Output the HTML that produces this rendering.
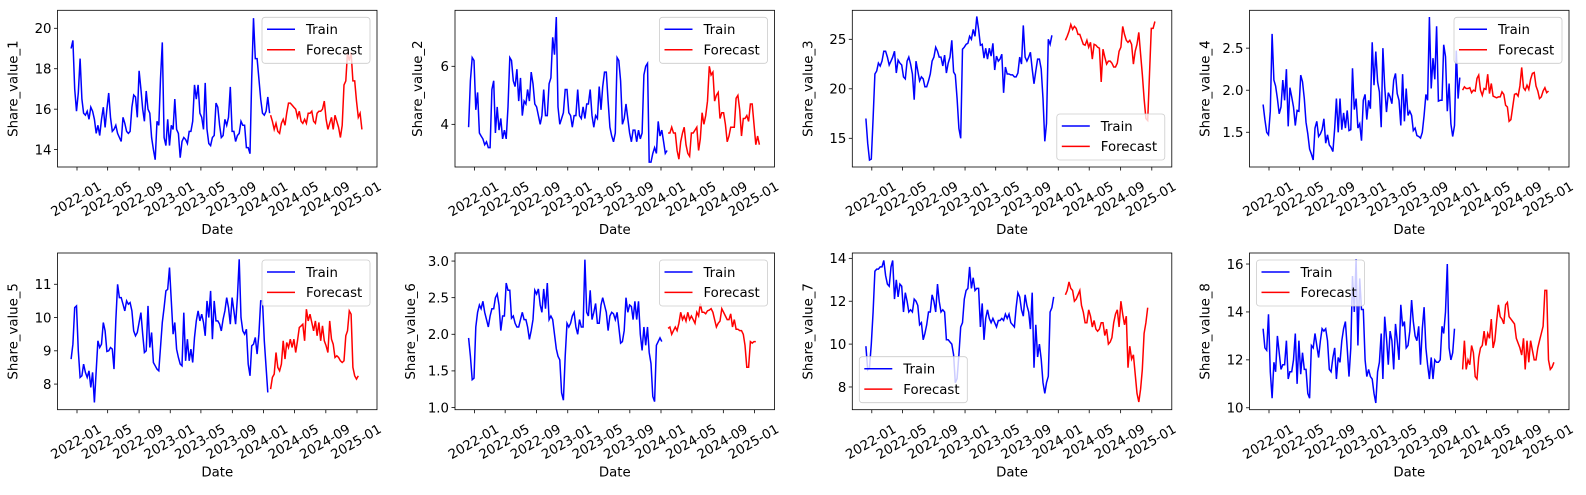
<!DOCTYPE html>
<html><head><meta charset="utf-8"><style>
body{margin:0;background:#fff}
svg text{font-family:"DejaVu Sans","Liberation Sans",sans-serif;fill:#000}
</style></head><body>
<svg id="fig" width="1586" height="490" xmlns="http://www.w3.org/2000/svg"></svg>
<script>
const panelNames=['Share_value_1','Share_value_2','Share_value_3','Share_value_4','Share_value_5','Share_value_6','Share_value_7','Share_value_8'];
const xTickLabels=['2022-01','2022-05','2022-09','2023-01','2023-05','2023-09','2024-01','2024-05','2024-09','2025-01'];
const trainStart='2021-12-09';
const forecastStart='2024-01-29';
const train1=[19.0,19.4,17.0,15.9,16.8,18.5,16.5,15.8,15.7,15.9,15.5,16.1,15.9,15.5,14.8,15.2,14.7,15.5,16.1,15.1,16.0,16.8,15.6,14.9,15.0,15.2,14.8,14.6,14.4,15.6,15.3,14.9,14.8,14.9,16.1,16.7,16.6,15.6,17.9,17.0,16.0,15.4,16.9,16.0,15.8,14.6,14.0,13.5,15.4,15.2,17.5,19.3,14.6,14.2,15.5,14.2,15.2,15.0,16.5,15.0,14.8,13.6,14.4,14.6,14.5,14.3,14.9,14.9,15.4,17.2,16.5,17.2,15.8,15.6,15.0,17.3,15.0,14.3,14.2,14.6,14.7,16.3,16.1,15.2,14.6,14.7,15.5,15.2,15.6,17.1,14.9,14.9,14.4,14.7,14.8,15.4,15.2,15.2,14.1,14.1,13.8,17.5,20.5,18.5,18.5,17.5,16.5,15.8,15.7,15.9,16.6,15.8];
const fc1=[15.7,15.4,15.0,15.3,14.9,14.8,15.3,15.5,15.2,15.8,16.3,16.3,16.2,16.1,16.0,15.6,15.9,15.4,15.3,15.5,15.3,15.8,15.8,15.9,15.4,15.3,15.8,15.9,15.9,16.0,16.4,15.5,15.0,15.3,15.6,15.0,15.7,15.4,15.1,14.6,15.2,17.2,17.4,18.8,18.4,18.8,17.4,17.4,16.4,15.6,15.8,15.0];
const train2=[3.9,5.5,6.3,6.2,4.5,5.1,3.7,3.6,3.5,3.3,3.4,3.2,3.2,5.2,5.5,3.7,4.6,3.8,4.2,3.5,3.8,3.5,4.6,6.3,6.2,5.5,5.3,5.9,4.8,5.6,4.3,4.8,4.7,5.2,4.8,5.8,5.4,4.7,4.6,4.3,4.0,4.3,5.2,4.3,4.3,5.4,5.6,7.0,6.4,7.7,4.6,4.0,4.2,4.4,5.2,5.2,4.4,4.3,3.9,4.3,4.3,5.2,4.3,4.2,4.6,4.2,4.7,4.7,5.2,4.3,3.9,4.3,4.2,5.3,4.5,5.3,5.8,5.8,4.8,3.9,3.6,3.4,3.7,6.3,6.2,5.5,4.0,4.2,4.7,4.2,3.7,3.4,3.8,3.8,3.4,3.8,3.5,3.7,5.7,6.0,6.1,2.7,2.7,3.0,3.2,3.0,4.1,3.6,3.8,3.4,3.0,3.1];
const fc2=[3.7,3.7,3.9,3.7,3.7,3.1,2.8,3.4,3.7,3.9,3.3,3.0,2.9,3.7,3.7,3.8,3.9,3.1,3.5,4.4,4.0,4.3,4.8,6.0,5.7,5.8,4.8,5.0,5.1,4.2,4.4,4.4,4.0,3.4,3.6,3.9,3.9,3.9,4.9,5.0,4.5,3.6,4.2,4.2,4.3,4.1,4.7,4.7,4.0,3.3,3.6,3.3];
const train3=[17.0,14.5,12.8,12.9,17.0,21.5,21.8,22.6,22.3,22.8,23.8,23.8,23.2,22.4,22.8,23.2,23.8,21.6,22.9,22.6,22.4,21.2,21.0,22.8,23.2,22.5,21.5,18.9,22.8,21.8,20.8,21.2,21.0,20.2,20.2,20.8,21.5,22.8,23.2,24.2,23.8,23.2,23.2,22.3,23.4,21.6,22.6,23.2,24.9,21.7,21.4,19.0,16.0,15.0,24.0,24.2,24.5,24.6,25.3,25.0,26.0,25.3,27.3,26.0,24.4,24.5,23.1,24.1,23.0,24.1,23.3,24.6,21.9,23.3,22.8,23.0,23.5,19.6,22.2,21.5,21.5,21.4,21.4,21.2,21.2,21.6,23.2,22.5,26.4,23.2,22.8,23.2,23.7,22.0,20.5,21.8,23.0,23.0,22.0,19.0,14.7,16.5,25.0,24.5,25.4];
const fc3=[24.9,25.3,25.8,26.5,26.0,26.3,26.1,25.5,25.5,25.0,24.5,24.4,24.9,24.2,24.7,23.0,24.5,24.4,24.2,24.1,20.7,24.0,23.2,22.5,22.8,22.8,22.6,22.2,22.2,22.6,23.8,24.2,26.3,25.5,24.9,24.7,24.9,24.5,22.5,23.8,24.5,25.7,23.5,21.5,19.0,17.0,16.8,21.5,26.1,26.1,26.8];
const train4=[1.83,1.65,1.50,1.47,1.75,2.67,2.12,2.05,1.90,1.72,1.80,2.12,1.88,2.25,1.57,2.03,1.92,1.80,1.58,1.76,1.75,2.18,2.10,1.90,1.62,1.48,1.30,1.24,1.17,1.55,1.63,1.45,1.48,1.53,1.66,1.37,1.47,1.35,1.32,1.27,1.55,1.90,1.50,1.90,1.53,1.73,1.55,1.76,1.52,1.53,2.26,1.77,1.90,1.55,1.60,1.40,1.88,1.95,1.65,1.88,1.78,2.57,2.06,2.46,2.10,1.98,1.56,2.50,2.04,1.74,1.97,1.92,1.84,2.12,2.20,1.96,1.88,1.58,2.19,1.63,2.02,1.70,1.75,1.70,1.52,1.55,1.46,1.45,1.43,1.50,1.70,1.95,1.88,2.87,2.02,2.38,2.13,2.76,1.87,1.88,1.88,2.54,2.40,1.75,2.08,1.60,1.45,1.58,2.47,1.90,2.15];
const fc4=[2.00,2.04,2.02,2.02,2.03,1.97,2.00,1.99,2.14,2.18,2.00,1.94,2.02,2.01,2.19,1.96,2.08,1.93,1.92,1.91,1.92,1.92,1.98,1.95,1.82,1.80,1.63,1.65,1.80,1.95,1.96,1.93,2.05,2.27,2.03,2.00,2.06,2.01,2.13,2.20,2.21,2.05,1.99,1.90,1.92,1.99,2.03,1.97,1.99];
const train5=[8.75,9.2,10.3,10.35,9.0,8.2,8.25,8.6,8.35,8.2,8.4,7.9,8.35,7.45,8.4,9.3,9.1,9.2,9.85,9.6,8.98,9.0,9.1,9.05,8.45,9.9,11.0,10.6,10.6,10.4,10.2,10.5,10.4,10.45,10.2,9.6,9.45,9.55,9.85,10.15,9.5,8.95,9.0,10.35,9.1,9.55,8.65,8.55,8.45,8.4,9.1,9.85,10.3,10.8,10.85,11.5,10.5,9.5,9.85,9.05,8.8,8.6,8.55,10.15,8.7,9.35,8.7,9.05,8.65,9.4,9.9,10.2,9.9,10.1,9.85,9.45,10.5,10.0,10.8,9.35,10.5,9.9,9.9,9.8,9.6,9.95,10.2,10.6,10.3,9.8,10.6,10.2,9.8,10.6,11.75,10.0,9.6,9.5,9.65,8.6,8.25,9.15,9.2,9.4,8.9,9.5,10.5,10.5,9.3,8.5,7.75];
const fc5=[7.85,8.2,8.3,8.95,8.5,8.4,8.6,9.3,8.75,9.25,9.1,9.35,9.1,9.35,8.95,9.3,9.7,9.75,9.8,9.3,10.25,9.9,10.1,9.85,9.6,9.9,9.45,9.85,9.3,9.75,9.3,9.15,8.95,9.9,9.35,9.2,8.8,8.85,8.8,8.7,8.65,8.7,9.45,9.6,10.2,10.1,8.5,8.25,8.15,8.25];
const train6=[1.95,1.7,1.38,1.4,2.1,2.3,2.4,2.35,2.45,2.3,2.2,2.1,2.25,2.35,2.35,2.5,2.55,2.4,2.05,2.25,2.25,2.7,2.6,2.6,2.22,2.25,2.15,2.1,2.1,2.2,2.3,2.2,2.2,2.1,1.93,2.05,2.2,2.6,2.55,2.62,2.4,2.3,2.62,2.35,2.7,2.2,2.25,2.2,2.0,1.8,1.7,1.65,1.2,1.1,1.7,2.15,2.1,2.15,2.25,2.3,2.1,2.0,2.2,2.1,2.1,3.02,2.3,2.25,2.6,2.2,2.3,2.42,2.15,2.15,2.4,2.5,2.4,2.3,2.05,2.25,2.3,2.28,2.2,2.3,2.1,1.88,1.9,2.05,2.5,2.3,2.4,2.38,2.2,2.45,2.2,2.45,2.0,1.78,2.1,1.85,2.1,1.75,1.6,1.15,1.08,1.85,1.9,1.95,1.9];
const fc6=[2.08,2.1,2.0,2.05,2.1,2.05,2.15,2.3,2.2,2.25,2.18,2.3,2.2,2.25,2.2,2.15,2.3,2.25,2.42,2.3,2.3,2.28,2.32,2.33,2.35,2.3,2.2,2.1,2.15,2.18,2.35,2.3,2.25,2.2,2.2,2.28,2.1,2.2,2.07,2.07,2.05,2.05,2.0,1.85,1.55,1.55,1.9,1.88,1.9,1.9];
const train7=[9.9,8.8,8.9,10.0,11.5,13.4,13.5,13.5,13.6,13.6,13.9,13.2,12.8,12.7,13.6,13.9,12.1,13.0,12.2,12.8,12.7,11.5,12.4,12.0,11.5,11.6,11.5,12.1,12.0,11.8,10.9,11.0,10.2,10.5,10.9,11.5,11.5,12.3,12.0,11.5,12.8,12.0,11.5,11.6,11.5,10.2,10.2,10.1,10.0,9.5,8.2,8.4,9.5,10.8,11.0,12.1,12.5,12.6,13.6,12.6,13.1,12.5,12.6,12.6,10.8,11.9,10.2,11.2,11.6,11.2,11.0,11.2,11.0,10.8,11.1,11.1,11.2,11.1,11.4,11.2,11.4,11.0,10.9,10.8,11.7,12.4,12.2,11.6,11.3,12.3,11.8,11.5,10.7,12.4,8.9,10.9,9.4,10.0,9.3,8.2,7.7,8.2,8.5,11.5,11.7,12.2];
const fc7=[12.3,12.5,12.9,12.6,12.5,12.0,12.1,12.3,12.5,11.8,11.5,11.0,11.0,11.6,11.3,10.8,11.1,10.7,10.6,10.7,11.0,11.0,10.4,10.7,10.0,10.1,10.3,11.0,11.4,11.6,10.8,12.0,11.4,10.9,11.3,8.9,9.9,9.3,9.5,8.6,7.7,7.3,7.9,8.8,10.5,11.0,11.7];
const train8=[13.3,12.5,12.4,13.9,11.5,10.4,11.9,11.5,13.0,12.3,11.6,11.8,11.8,12.8,11.2,11.5,11.5,12.0,13.1,11.0,12.8,11.4,12.3,11.6,11.6,10.6,10.4,12.6,12.5,13.1,12.6,12.1,12.8,13.3,13.2,13.3,12.8,11.6,11.5,12.1,12.5,11.2,12.1,11.9,12.8,13.3,13.6,12.5,11.3,12.5,15.5,14.0,16.2,12.6,15.4,14.1,14.1,12.0,11.3,11.6,11.3,11.2,10.6,10.2,11.5,11.9,13.1,11.2,13.8,12.9,11.8,13.2,12.8,11.6,13.5,12.8,12.0,14.3,13.4,13.6,12.5,12.6,13.2,14.5,13.6,13.0,12.8,13.4,11.8,13.3,14.2,12.5,11.8,11.2,12.1,11.2,12.0,11.9,11.9,12.0,13.4,13.1,14.0,16.0,12.5,12.0,12.3,13.3];
const fc8=[11.6,12.8,11.6,12.0,11.8,12.6,12.3,11.3,11.2,12.1,12.5,12.6,13.2,12.6,13.1,12.9,13.7,12.5,12.8,13.6,14.3,13.8,13.7,13.5,14.3,14.4,13.8,13.7,13.6,13.5,12.9,12.7,12.5,12.2,12.9,11.6,12.8,11.9,12.8,12.4,12.0,12.0,12.5,12.8,13.1,13.4,14.9,14.9,12.0,11.6,11.7,11.9];
const yTicks1=[14,16,18,20],yTicks2=[4,6],yTicks3=[15,20,25],yTicks4=[1.5,2.0,2.5],yTicks5=[8,9,10,11],yTicks6=[1.0,1.5,2.0,2.5,3.0],yTicks7=[8,10,12,14],yTicks8=[10,12,14,16];
const yLim1=[13.14,20.89],yLim2=[2.53,7.93],yLim3=[12.1,27.93],yLim4=[1.087,2.95],yLim5=[7.23,11.94],yLim6=[0.97,3.11],yLim7=[6.94,14.25],yLim8=[9.92,16.46];
const tickDec=[0,0,0,1,0,1,0,0];
const legendPos=['ur','ur','lr','ur','ur','ur','ll','ul'];

const trains=[train1,train2,train3,train4,train5,train6,train7,train8];
const fcs=[fc1,fc2,fc3,fc4,fc5,fc6,fc7,fc8];
const yTicksAll=[yTicks1,yTicks2,yTicks3,yTicks4,yTicks5,yTicks6,yTicks7,yTicks8];
const yLims=[yLim1,yLim2,yLim3,yLim4,yLim5,yLim6,yLim7,yLim8];

const NS='http://www.w3.org/2000/svg';
const svg=document.getElementById('fig');
function mk(tag,attrs,parent){const e=document.createElementNS(NS,tag);for(const k in attrs)e.setAttribute(k,attrs[k]);(parent||svg).appendChild(e);return e;}
const lefts=[57.5,455,852.3,1249.5],W=319.5,tops=[10.3,253],H=156.7;
const DAY=86400000;
const t2022=Date.UTC(2022,0,1),t2025=Date.UTC(2025,0,1);
function dates(start,n){const s=Date.parse(start);return Array.from({length:n},(_,i)=>s+i*7*DAY);}
function tickTime(lbl){const [y,m]=lbl.split('-').map(Number);return Date.UTC(y,m-1,1);}

for(let p=0;p<8;p++){
  const L=lefts[p%4],T=tops[Math.floor(p/4)],B=T+H;
  const g=mk('g',{});
  
  
  const xs=t=>L+19.5+(t-t2022)/(t2025-t2022)*280;
  const [y0,y1]=yLims[p];
  const ys=v=>B-(v-y0)/(y1-y0)*H;
  const tr=trains[p],fc=fcs[p];
  const td=dates(trainStart,tr.length),fd=dates(forecastStart,fc.length);
  const l1=mk('polyline',{points:tr.map((v,i)=>xs(td[i]).toFixed(1)+','+ys(v).toFixed(1)).join(' '),fill:'none',stroke:'#0000ff','stroke-width':1.5},g);
  
  
  const l2=mk('polyline',{points:fc.map((v,i)=>xs(fd[i]).toFixed(1)+','+ys(v).toFixed(1)).join(' '),fill:'none',stroke:'#ff0000','stroke-width':1.5},g);
  
  
  const fr=mk('rect',{x:L,y:T,width:W,height:H,fill:'none',stroke:'#000','stroke-width':0.8},g);
  
  
  xTickLabels.forEach(lbl=>{
    const x=xs(tickTime(lbl));
    mk('line',{x1:x,x2:x,y1:B,y2:B+3.5,stroke:'#000','stroke-width':0.8},g);
    const t=mk('text',{x:x-1,y:B+32+4.5,'font-size':13.3,'text-anchor':'middle',transform:`rotate(-30 ${x-1} ${B+32})`},g);
    t.textContent=lbl;
    
    
  });
  yTicksAll[p].forEach(v=>{
    const y=ys(v);
    mk('line',{x1:L-3.5,x2:L,y1:y,y2:y,stroke:'#000','stroke-width':0.8},g);
    const t=mk('text',{x:L-6,y:y+4.8,'font-size':13.3,'text-anchor':'end'},g);
    t.textContent=v.toFixed(tickDec[p]);
    
    
  });
  const yl=mk('text',{x:0,y:0,'font-size':13.3,'text-anchor':'middle',transform:`translate(${L-(tickDec[p]||yLims[p][1]>=10?40:33)} ${T+H/2}) rotate(-90)`},g);
  yl.textContent=panelNames[p];
  
  
  const xl=mk('text',{x:L+W/2,y:B+67,'font-size':13.3,'text-anchor':'middle'},g);
  xl.textContent='Date';
  
  
  const lw=108,lh=46,pos=legendPos[p];
  const lx=pos[1]==='r'?L+W-7-lw:L+7, ly=pos[0]==='u'?T+7:B-7-lh;
  const lg=mk('g',{},g);
  
  
  mk('rect',{x:lx,y:ly,width:lw,height:lh,rx:3,fill:'#fff','fill-opacity':0.8,stroke:'#cccccc','stroke-width':0.8},lg);
  [['Train','#0000ff'],['Forecast','#ff0000']].forEach((e,i)=>{
    const yy=ly+12+i*20.4;
    mk('line',{x1:lx+5,x2:lx+33,y1:yy,y2:yy,stroke:e[1],'stroke-width':1.5},lg);
    const t=mk('text',{x:lx+44,y:yy+4.8,'font-size':13.3},lg);
    t.textContent=e[0];
    
    
  });
}
</script>
</body></html>
